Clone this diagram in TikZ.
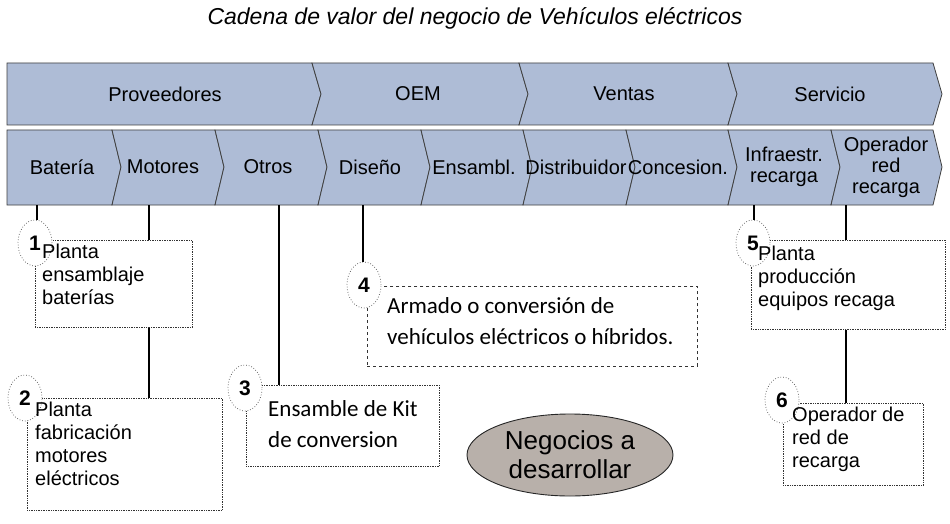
\documentclass[tikz,border=0pt]{standalone}
\usepackage{fontspec}
\setmainfont{Liberation Sans}
\newfontfamily\calfont{Carlito}
\usetikzlibrary{shapes.geometric}
\definecolor{chev}{HTML}{AEBCD6}
\definecolor{oval}{HTML}{B8B0AA}
\tikzset{
  seg/.style={draw=black!75, line width=0.8pt, fill=chev},
  lbl/.style={font=\fontsize{20}{21}\selectfont, align=center, inner sep=0pt},
  cbox/.style={draw=black!80, densely dotted, line width=0.7pt, fill=white},
  num/.style={draw=black!70, dotted, line width=0.7pt, ellipse, minimum width=34pt, minimum height=46pt, fill=white, font=\fontsize{21}{22}\selectfont\bfseries, inner sep=0pt},
  btxt/.style={font=\fontsize{20}{23}\selectfont, align=left, anchor=north west, inner sep=0pt},
  conn/.style={line width=1.4pt}
}
\newcommand{\segfirst}[5]{% x1 x2 top bot mid
  \draw[seg] (#1,#3) -- (#2,#3) -- ({#2+9},#5) -- (#2,#4) -- (#1,#4) -- cycle;}
\newcommand{\segnext}[5]{%
  \draw[seg] (#1,#3) -- (#2,#3) -- ({#2+9},#5) -- (#2,#4) -- (#1,#4) -- ({#1+9},#5) -- cycle;}
\begin{document}
\begin{tikzpicture}[x=1pt,y=-1pt]
\useasboundingbox (0,0) rectangle (950,524);
\fill[white] (0,0) rectangle (950,524);
\node[font=\fontsize{23}{24}\selectfont\itshape] (title) at (475,18) {Cadena de valor del negocio de Vehículos eléctricos};
% top band
\segfirst{7}{312}{63}{125}{94}
\segnext{312}{519}{63}{125}{94}
\segnext{519}{728}{63}{125}{94}
\segnext{728}{933}{63}{125}{94}
\node[lbl] (prov) at (165,94) {Proveedores};
\node[lbl] (oem) at (418,94) {OEM};
\node[lbl] (vent) at (624,94) {Ventas};
\node[lbl] (serv) at (830,94) {Servicio};
% bottom band
\segfirst{7}{112}{130}{205}{167}
\segnext{112}{215}{130}{205}{167}
\segnext{215}{318}{130}{205}{167}
\segnext{318}{421}{130}{205}{167}
\segnext{421}{523}{130}{205}{167}
\segnext{523}{626}{130}{205}{167}
\segnext{626}{728}{130}{205}{167}
\segnext{728}{831}{130}{205}{167}
\segnext{831}{933}{130}{205}{167}
\node[lbl] (bat) at (62,167) {Batería};
\node[lbl] (mot) at (163,167) {Motores};
\node[lbl] (otr) at (268,167) {Otros};
\node[lbl] (dis) at (370,167) {Diseño};
\node[lbl] (ens) at (474,167) {Ensambl.};
\node[lbl] (dist) at (576,167) {Distribuidor};
\node[lbl] (conc) at (678,167) {Concesion.};
\node[lbl] (infr) at (784,167) {Infraestr.\\recarga};
\node[lbl] (oper) at (886,167) {Operador\\red\\recarga};
% coordinates on band bottom
\coordinate (b1) at (37,205); \coordinate (b2) at (149,205); \coordinate (b3) at (279,205);
\coordinate (b4) at (363,205); \coordinate (b5) at (754,205); \coordinate (b6) at (846,205);
% boxes
\node[cbox, minimum width=157pt, minimum height=87pt, anchor=north west, inner sep=0pt] (box1) at (35,240) {};
\node[cbox, minimum width=195pt, minimum height=112pt, anchor=north west, inner sep=0pt] (box2) at (27,398) {};
\node[cbox, minimum width=193pt, minimum height=81pt, anchor=north west, inner sep=0pt] (box3) at (246,385) {};
\node[cbox, dashed, minimum width=330pt, minimum height=80pt, anchor=north west, inner sep=0pt] (box4) at (367,286) {};
\node[cbox, minimum width=194pt, minimum height=89pt, anchor=north west, inner sep=0pt] (box5) at (751,240) {};
\node[cbox, minimum width=140pt, minimum height=82pt, anchor=north west, inner sep=0pt] (box6) at (783,403) {};
% connectors
\draw[conn] (b2) -- (box1.north -| b2);
\draw[conn] (box1.south -| b2) -- (box2.north -| b2);
\draw[conn] (b3) -- (box3.north -| b3);
\draw[conn] (b6) -- (box5.north -| b6);
\draw[conn] (box5.south -| b6) -- (box6.north -| b6);
% numbers
\node[num] (n1) at (35,243) {1};
\node[num] (n2) at (25,398) {2};
\node[num] (n3) at (245,388) {3};
\node[num] (n4) at (364,285) {4};
\node[num] (n5) at (753,243) {5};
\node[num] (n6) at (782,400) {6};
\draw[conn] (b1) -- (b1 |- n1.north);
\draw[conn] (b4) -- (b4 |- n4.north);
\draw[conn] (b5) -- (b5 |- n5.north);
% texts
\node[btxt] (t1) at (42,244) {Planta\\ensamblaje\\baterías};
\node[btxt] (t2) at (35,402) {Planta\\fabricación\\motores\\eléctricos};
\node[btxt, font=\calfont\fontsize{23}{31}\selectfont] (t3) at (268,400) {Ensamble de Kit\\de conversion};
\node[btxt, font=\calfont\fontsize{23}{31}\selectfont] (t4) at (387,297) {Armado o conversión de\\vehículos eléctricos o híbridos.};
\node[btxt] (t5) at (758,246) {Planta\\producción\\equipos recaga};
\node[btxt] (t6) at (792,407) {Operador de\\red de\\recarga};
% oval
\node[ellipse, draw=black!85, line width=0.9pt, fill=oval, minimum width=206pt, minimum height=82pt, inner sep=0pt, align=center, font=\fontsize{26}{29}\selectfont] (neg) at (570,455) {Negocios a\\desarrollar};
\end{tikzpicture}
\end{document}
